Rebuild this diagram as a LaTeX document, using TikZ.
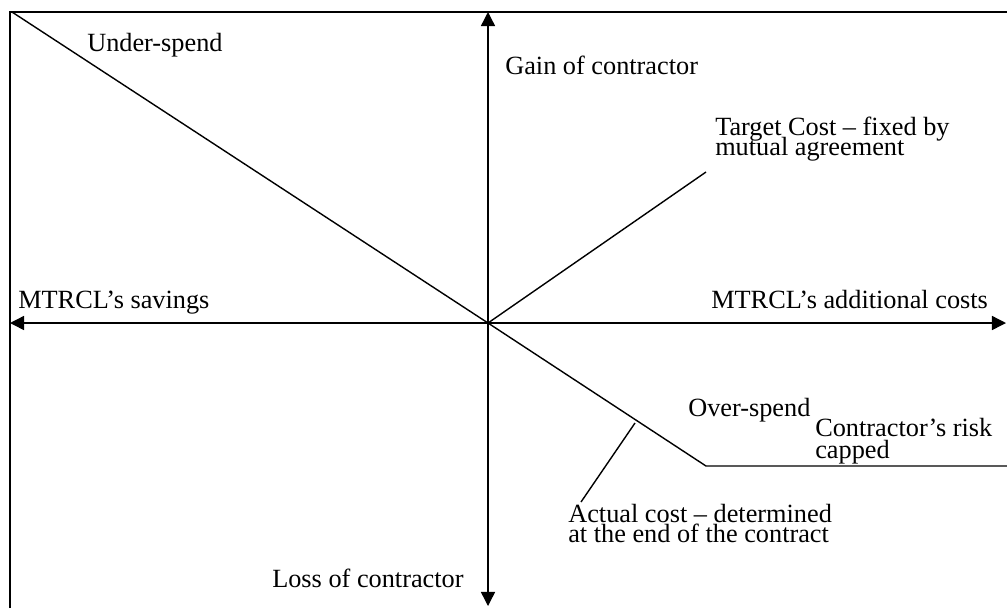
\documentclass[tikz,border=0pt]{standalone}
\usepackage{fontspec}
\usepackage{tikz}
\usetikzlibrary{arrows.meta}
\setmainfont{Liberation Serif}

% tight two-line labels: no extra \lineskip between lines
\newcommand{\lblfont}[1]{\fontsize{18.7}{#1}\selectfont\lineskiplimit=-\maxdimen}

\begin{document}
\begin{tikzpicture}[x=0.025cm,y=-0.025cm,
      lbl/.style={anchor=base west,inner sep=0pt,align=left,
                  font=\lblfont{14}},
      ax/.style={{Triangle[length=10pt,width=10pt]}-{Triangle[length=10pt,width=10pt]},line width=1pt},
      cost/.style={line width=1pt}]
    \useasboundingbox (0,0) rectangle (1007,608);
    %% -- frame (left and top edges) --
    \draw[line width=1pt] (10,608) |- (1007,12);
    %% -- points --
    \coordinate (o)     at (488,323);
    \coordinate (top)   at (488,12);
    \coordinate (bot)   at (488,606);
    \coordinate (lft)   at (10,323);
    \coordinate (rgt)   at (1006,323);
    \coordinate (ul)    at (12,12);
    \coordinate (knee)  at (706,466);
    \coordinate (cap)   at (1007,466);
    \coordinate (tgt)   at (706,172);
    \coordinate (ptA)   at (635,423);
    \coordinate (ptB)   at (581,502);
    %% -- axes --
    \draw[ax] (bot) -- (top);
    \draw[ax] (lft) -- (rgt);
    %% -- cost lines --
    \draw[cost] (ul) -- (o) -- (knee) -- (cap);
    \draw[cost] (o) -- (tgt);
    \draw[cost] (ptA) -- (ptB);
    %% -- labels (base = last line) --
    \node[lbl] (under) at (87,51)  {Under-spend};
    \node[lbl] (gain)  at (505,74) {Gain of contractor};
    \node[lbl] (target) at (715,155) {Target Cost -- fixed by\\mutual agreement};
    \node[lbl] (save)  at (18,308) {MTRCL’s savings};
    \node[lbl] (add)   at (711,308) {MTRCL’s additional costs};
    \node[lbl] (over)  at (688,416) {Over-spend};
    \node[lbl,font=\lblfont{15}] (risk)  at (815,458) {Contractor’s risk\\capped};
    \node[lbl] (actual) at (568,542) {Actual cost -- determined\\at the end of the contract};
    \node[lbl] (loss)  at (272,587) {Loss of contractor};
  \end{tikzpicture}
\end{document}
